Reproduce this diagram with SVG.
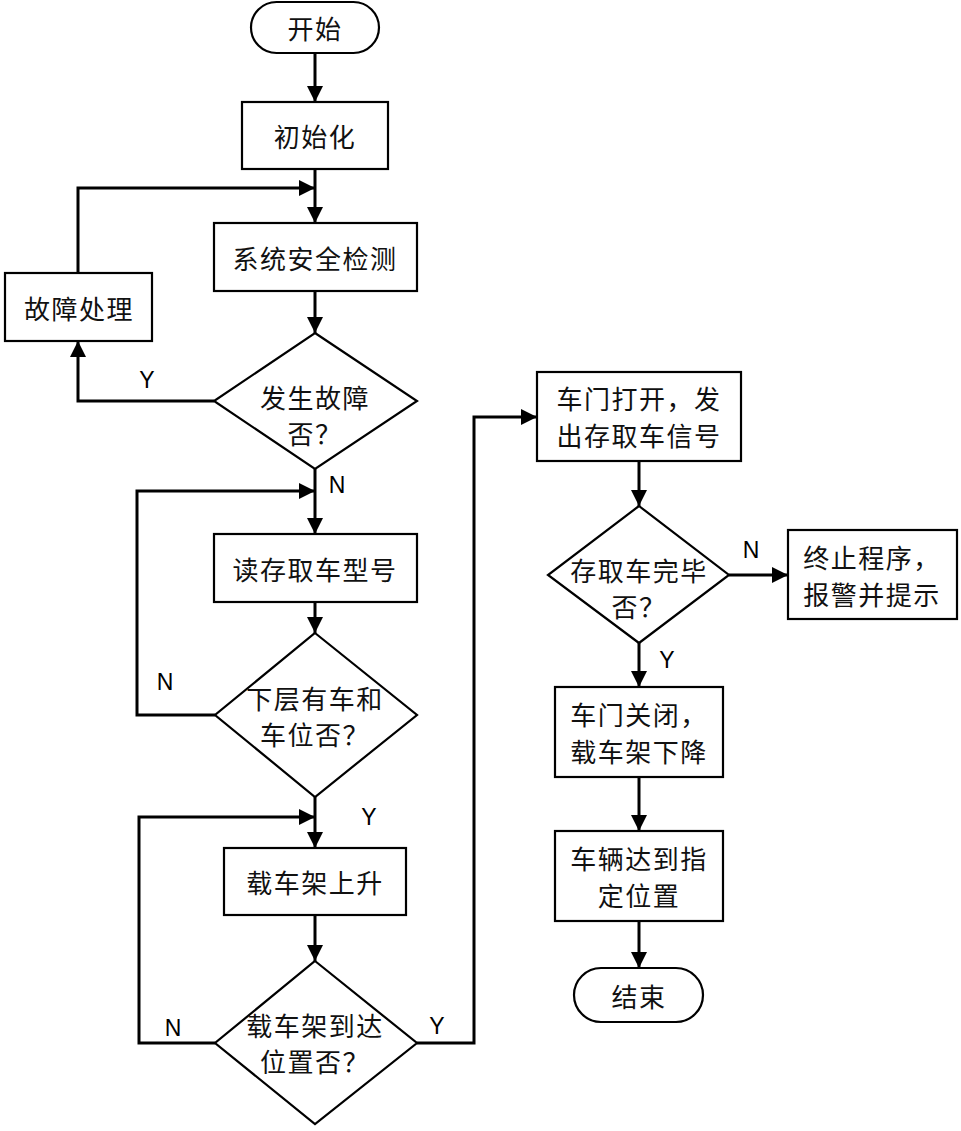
<svg xmlns="http://www.w3.org/2000/svg" width="961" height="1131" viewBox="0 0 961 1131">
<style>
.shape{fill:#fff;stroke:#000;stroke-width:2.2}
.t{font-family:"Noto Sans CJK SC","Noto Sans CJK JP",sans-serif;font-size:26px;letter-spacing:1.5px;text-anchor:middle;dominant-baseline:central;fill:#111}
.lbl{font-family:"Liberation Sans",Arial,sans-serif;font-size:23px;text-anchor:middle;dominant-baseline:central;fill:#000}
.c{fill:none;stroke:#000;stroke-width:3}
</style>
<defs>
<marker id="arr" markerUnits="userSpaceOnUse" markerWidth="17" markerHeight="17" refX="16" refY="8" orient="auto" viewBox="0 0 17 17">
<path d="M0,0 L16,8 L0,16 z" fill="#000"/>
</marker>
</defs>
<rect width="961" height="1131" fill="#fff"/>
<g id="connectors">
<path class="c" d="M315,53 V102" marker-end="url(#arr)"/>
<path class="c" d="M315,169 V223" marker-end="url(#arr)"/>
<path class="c" d="M78,273 V188 H315" marker-end="url(#arr)"/>
<path class="c" d="M315,291 V333" marker-end="url(#arr)"/>
<path class="c" d="M214,401 H78 V341" marker-end="url(#arr)"/>
<path class="c" d="M315,469 V534" marker-end="url(#arr)"/>
<path class="c" d="M215,715 H137 V491 H315" marker-end="url(#arr)"/>
<path class="c" d="M315,602 V633" marker-end="url(#arr)"/>
<path class="c" d="M315,797 V848" marker-end="url(#arr)"/>
<path class="c" d="M215,1043 H139 V817 H315" marker-end="url(#arr)"/>
<path class="c" d="M315,915 V961" marker-end="url(#arr)"/>
<path class="c" d="M417,1043 H474 V417 H537" marker-end="url(#arr)"/>
<path class="c" d="M639,461 V506" marker-end="url(#arr)"/>
<path class="c" d="M729,575 H788" marker-end="url(#arr)"/>
<path class="c" d="M639,643 V687" marker-end="url(#arr)"/>
<path class="c" d="M639,777 V831" marker-end="url(#arr)"/>
<path class="c" d="M639,921 V968" marker-end="url(#arr)"/>
<text class="lbl" x="147" y="380">Y</text>
<text class="lbl" x="337" y="485">N</text>
<text class="lbl" x="165" y="682">N</text>
<text class="lbl" x="369" y="817">Y</text>
<text class="lbl" x="173" y="1028">N</text>
<text class="lbl" x="437" y="1026">Y</text>
<text class="lbl" x="751" y="550">N</text>
<text class="lbl" x="667" y="660">Y</text>
</g>
<g id="start">
<rect class="shape" x="251" y="2" width="128" height="51" rx="25.5"/>
<text class="t" x="315" y="27">开始</text>
</g>
<g id="init">
<rect class="shape" x="242" y="102" width="146" height="67"/>
<text class="t" x="315" y="135">初始化</text>
</g>
<g id="check">
<rect class="shape" x="214" y="223" width="203" height="68"/>
<text class="t" x="315" y="257">系统安全检测</text>
</g>
<g id="fault">
<rect class="shape" x="5" y="273" width="147" height="68"/>
<text class="t" x="79" y="307">故障处理</text>
</g>
<g id="d1">
<polygon class="shape" points="315,333 417,401 315,469 214,401"/>
<text class="t" x="315" y="396">发生故障</text>
<text class="t" x="315" y="432">否？</text>
</g>
<g id="read">
<rect class="shape" x="214" y="534" width="203" height="68"/>
<text class="t" x="315" y="568">读存取车型号</text>
</g>
<g id="d2">
<polygon class="shape" points="315,633 417,715 315,797 215,715"/>
<text class="t" x="315" y="697">下层有车和</text>
<text class="t" x="315" y="733">车位否？</text>
</g>
<g id="lift">
<rect class="shape" x="224" y="848" width="182" height="67"/>
<text class="t" x="315" y="881">载车架上升</text>
</g>
<g id="d3">
<polygon class="shape" points="315,961 417,1043 315,1124 215,1043"/>
<text class="t" x="315" y="1024">载车架到达</text>
<text class="t" x="315" y="1060">位置否？</text>
</g>
<g id="door">
<rect class="shape" x="537" y="372" width="204" height="89"/>
<text class="t" x="639" y="397">车门打开，发</text>
<text class="t" x="639" y="434">出存取车信号</text>
</g>
<g id="d4">
<polygon class="shape" points="639,506 729,575 639,643 548,575"/>
<text class="t" x="639" y="569">存取车完毕</text>
<text class="t" x="639" y="605">否？</text>
</g>
<g id="stop">
<rect class="shape" x="788" y="530" width="169" height="89"/>
<text class="t" x="872" y="556">终止程序，</text>
<text class="t" x="872" y="593">报警并提示</text>
</g>
<g id="close">
<rect class="shape" x="555" y="687" width="168" height="90"/>
<text class="t" x="639" y="713">车门关闭，</text>
<text class="t" x="639" y="750">载车架下降</text>
</g>
<g id="arrive">
<rect class="shape" x="555" y="831" width="168" height="90"/>
<text class="t" x="639" y="857">车辆达到指</text>
<text class="t" x="639" y="894">定位置</text>
</g>
<g id="end">
<rect class="shape" x="574" y="968" width="129" height="54" rx="27"/>
<text class="t" x="639" y="995">结束</text>
</g>
</svg>
